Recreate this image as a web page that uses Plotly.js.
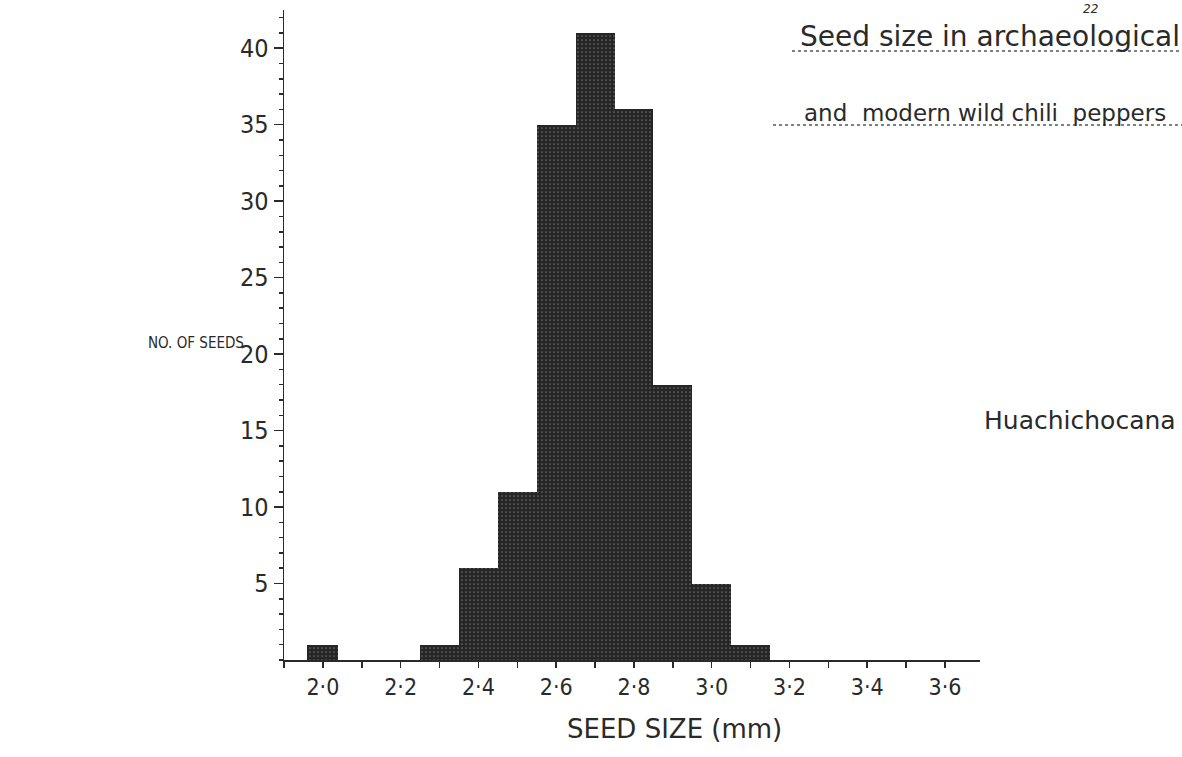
<!DOCTYPE html>
<html>
<head>
<meta charset="utf-8">
<script src="https://cdn.plot.ly/plotly-3.0.1.min.js"></script>
<style>html,body{margin:0;padding:0;background:#fff;}#chart{width:1182px;height:757px;}</style>
</head>
<body>
<div id="chart"></div>
<script>
// Seed size classes (mm) and number of seeds
const seedSize = [2.0, 2.3, 2.4, 2.5, 2.6, 2.7, 2.8, 2.9, 3.0, 3.1];
const seedCount = [1, 1, 6, 11, 35, 41, 36, 18, 5, 1];
const binWidth = [0.08, 0.1, 0.1, 0.1, 0.1, 0.1, 0.1, 0.1, 0.1, 0.1];
const xTickVals = [2.0, 2.2, 2.4, 2.6, 2.8, 3.0, 3.2, 3.4, 3.6];
const xTickText = ['2·0', '2·2', '2·4', '2·6', '2·8', '3·0', '3·2', '3·4', '3·6'];
const yTickVals = [5, 10, 15, 20, 25, 30, 35, 40];
const yTickText = ['5', '10', '15', '20', '25', '30', '35', '40'];

const FONT = 'DejaVu Sans Condensed, DejaVu Sans, sans-serif';
const FONT2 = 'DejaVu Sans, sans-serif';
const INK = '#2a2a2a';

const W = 1182, H = 757, L = 284, R = 202, T = 10, B = 97;
const pw = W - L - R, ph = H - T - B;
const px = v => (v - L) / pw;
const py = v => (H - B - v) / ph;

const trace = {
  type: 'bar',
  x: seedSize,
  y: seedCount,
  width: binWidth,
  marker: {
    color: '#2c2c2c',
    line: {width: 0},
    pattern: {shape: '.', fgcolor: '#6a6a6a', bgcolor: '#262626', size: 4, solidity: 0.15}
  },
  hoverinfo: 'x+y'
};

const layout = {
  width: W, height: H,
  margin: {l: L, r: R, t: T, b: B},
  paper_bgcolor: '#ffffff',
  plot_bgcolor: '#ffffff',
  showlegend: false,
  bargap: 0,
  font: {family: FONT, color: INK},
  xaxis: {
    range: [1.9, 3.69],
    tickvals: xTickVals,
    ticktext: xTickText,
    ticks: 'outside', ticklen: 6, tickwidth: 1.5, tickcolor: INK,
    minor: {dtick: 0.1, tick0: 2.0, ticks: 'outside', ticklen: 6, tickwidth: 1.5, tickcolor: INK},
    showline: true, linecolor: INK, linewidth: 1.5,
    showgrid: false, zeroline: false,
    tickfont: {size: 23, color: INK, family: FONT}
  },
  yaxis: {
    range: [0, 42.5],
    tickvals: yTickVals,
    ticktext: yTickText,
    ticks: 'outside', ticklen: 9, tickwidth: 1.5, tickcolor: INK,
    minor: {dtick: 1, tick0: 0, ticks: 'outside', ticklen: 4, tickwidth: 1.5, tickcolor: INK},
    showline: true, linecolor: INK, linewidth: 1.5,
    showgrid: false, zeroline: false,
    tickfont: {size: 25, color: INK, family: FONT}
  },
  annotations: [
    {xref: 'paper', yref: 'paper', x: px(565), y: py(729), xanchor: 'left', yanchor: 'middle',
     text: 'SEED SIZE (mm)', showarrow: false, font: {size: 26, color: INK, family: FONT2}},
    {xref: 'paper', yref: 'paper', x: px(146), y: py(343), xanchor: 'left', yanchor: 'middle',
     text: 'NO. OF SEEDS', showarrow: false, font: {size: 15, color: INK, family: FONT}},
    {xref: 'paper', yref: 'paper', x: px(982), y: py(421), xanchor: 'left', yanchor: 'middle',
     text: 'Huachichocana', showarrow: false, font: {size: 25, color: INK, family: FONT2}},
    {xref: 'paper', yref: 'paper', x: px(798), y: py(36), xanchor: 'left', yanchor: 'middle',
     text: 'Seed size in archaeological', showarrow: false, font: {size: 28, color: INK, family: FONT2}},
    {xref: 'paper', yref: 'paper', x: px(802), y: py(113), xanchor: 'left', yanchor: 'middle',
     text: 'and  modern wild chili  peppers', showarrow: false, font: {size: 23, color: INK, family: FONT2}},
    {xref: 'paper', yref: 'paper', x: px(1090), y: py(0), xanchor: 'center', yanchor: 'top',
     text: '<i>22</i>', showarrow: false, font: {size: 12, color: INK, family: FONT2}}
  ],
  shapes: [
    {type: 'line', xref: 'paper', yref: 'paper', x0: px(792), x1: px(1182), y0: py(51), y1: py(51),
     line: {color: '#555', width: 1.5, dash: 'dot'}},
    {type: 'line', xref: 'paper', yref: 'paper', x0: px(773), x1: px(1182), y0: py(125), y1: py(125),
     line: {color: '#555', width: 1.5, dash: 'dot'}}
  ]
};

Plotly.newPlot('chart', [trace], layout, {displayModeBar: false, staticPlot: true});
</script>
</body>
</html>
